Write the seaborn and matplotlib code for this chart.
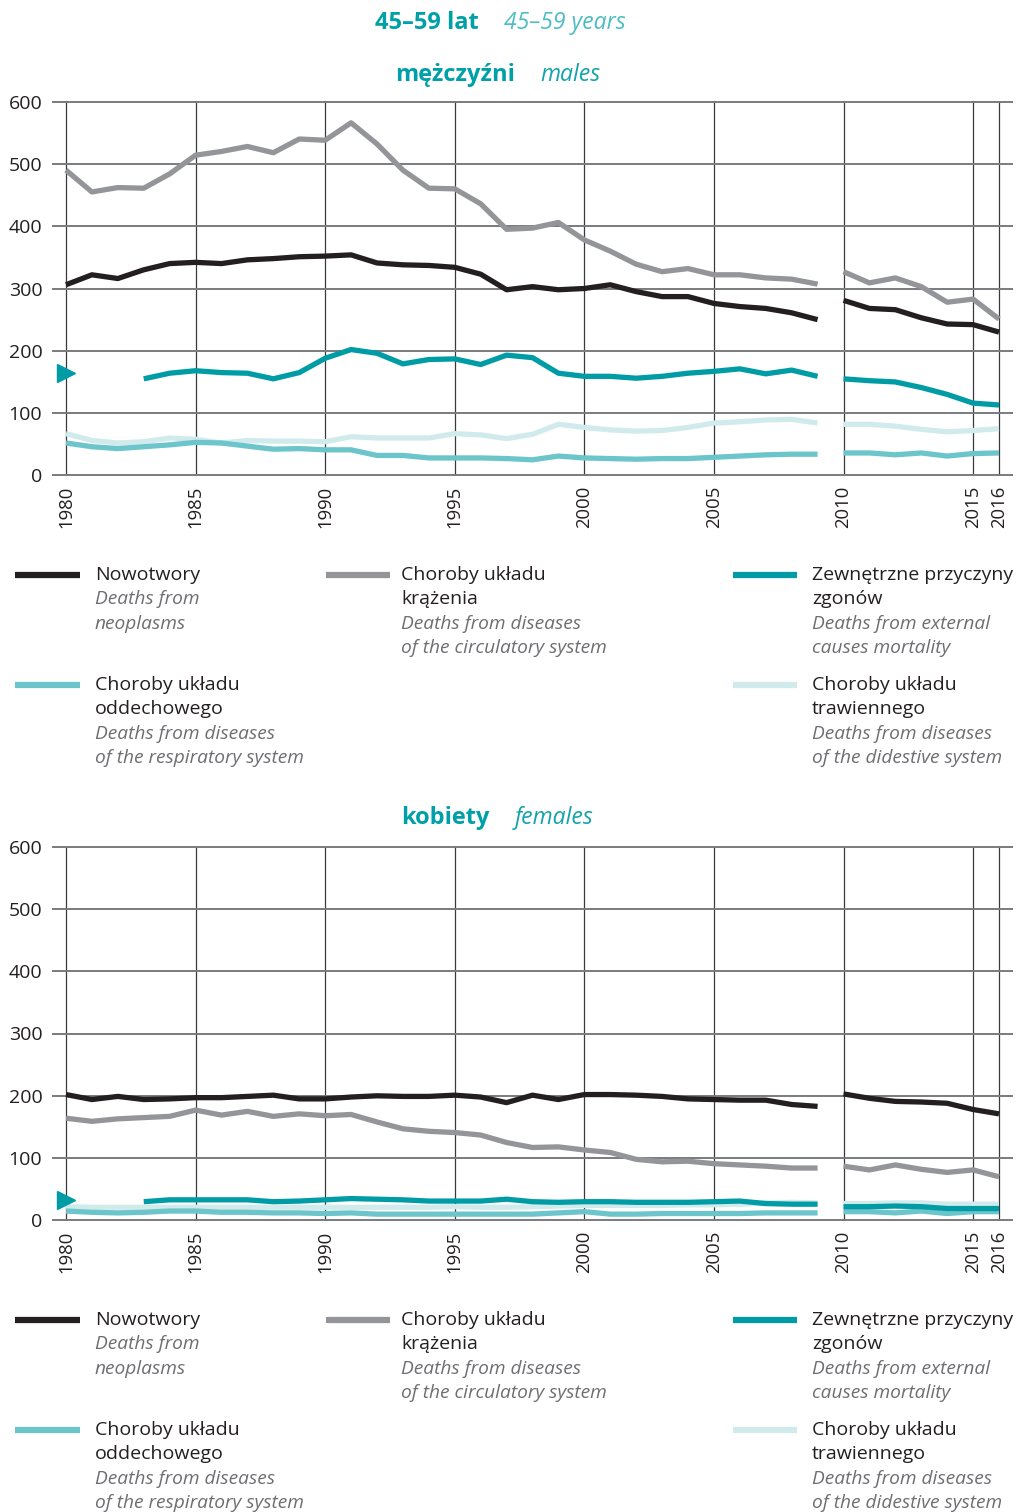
import numpy as np
import pandas as pd
import matplotlib.pyplot as plt
import seaborn as sns
from matplotlib.lines import Line2D

years = list(range(1980, 2017))
year_ticks = [1980, 1985, 1990, 1995, 2000, 2005, 2010, 2015, 2016]
y_ticks = [0, 100, 200, 300, 400, 500, 600]

# males
m_neo = [306, 322, 316, 330, 340, 342, 340, 346, 348, 351, 352, 354, 341, 338, 337, 334, 323, 298,
         303, 298, 300, 306, 295, 287, 287, 276, 271, 268, 261, 250, 281, 268, 266, 253, 243, 242, 230]
m_circ = [490, 455, 462, 461, 484, 514, 520, 528, 518, 540, 538, 566, 532, 490, 461, 460, 436, 395,
          397, 406, 378, 360, 339, 327, 332, 322, 322, 317, 315, 307, 327, 309, 317, 303, 278, 283, 251]
m_ext = [None, None, None, 155, 164, 168, 165, 164, 155, 165, 188, 202, 196, 179, 186, 187, 178, 193,
         189, 164, 159, 159, 156, 159, 164, 167, 171, 163, 169, 159, 155, 152, 150, 141, 130, 116, 113]
m_resp = [52, 46, 43, 46, 49, 53, 52, 47, 42, 43, 41, 41, 32, 32, 28, 28, 28, 27,
          25, 31, 28, 27, 26, 27, 27, 29, 31, 33, 34, 34, 36, 36, 33, 36, 31, 35, 36]
m_dig = [67, 56, 52, 54, 60, 58, 52, 56, 55, 55, 54, 62, 60, 60, 60, 67, 65, 59,
         66, 82, 77, 73, 71, 72, 77, 84, 86, 89, 90, 84, 82, 82, 79, 74, 70, 72, 75]
m_ext_1980 = 164

# females
f_neo = [202, 194, 199, 194, 195, 197, 197, 199, 201, 195, 195, 198, 200, 199, 199, 201, 198, 189,
         201, 194, 202, 202, 201, 199, 195, 194, 193, 193, 186, 183, 203, 196, 191, 190, 188, 178, 171]
f_circ = [164, 159, 163, 165, 167, 177, 169, 175, 167, 171, 168, 170, 158, 147, 143, 141, 137, 125,
          117, 118, 113, 109, 98, 94, 95, 91, 89, 87, 84, 84, 87, 81, 89, 82, 77, 81, 70]
f_ext = [None, None, None, 30, 33, 33, 33, 33, 30, 31, 33, 35, 34, 33, 31, 31, 31, 34,
         30, 29, 30, 30, 29, 29, 29, 30, 31, 27, 26, 26, 22, 22, 23, 22, 19, 19, 19]
f_resp = [15, 13, 12, 13, 15, 15, 13, 13, 12, 12, 11, 12, 10, 10, 10, 10, 10, 10,
          10, 12, 14, 10, 10, 11, 11, 11, 11, 12, 12, 12, 14, 14, 12, 15, 11, 14, 14]
f_dig = [22, 21, 21, 21, 21, 21, 21, 21, 21, 21, 21, 21, 21, 21, 21, 22, 21, 21,
         22, 23, 24, 24, 24, 24, 25, 25, 26, 28, 29, 28, 27, 27, 28, 28, 26, 26, 26]
f_ext_1980 = 33

colors = {'neo': '#231f20', 'circ': '#939598', 'ext': '#009ca6',
          'resp': '#6cc5ca', 'dig': '#d1ebec'}
draw_order = ['dig', 'resp', 'ext', 'circ', 'neo']

legend_items = [
    ('neo', ['Nowotwory'], ['Deaths from', 'neoplasms']),
    ('circ', ['Choroby układu', 'krążenia'], ['Deaths from diseases', 'of the circulatory system']),
    ('ext', ['Zewnętrzne przyczyny', 'zgonów'], ['Deaths from external', 'causes mortality']),
    ('resp', ['Choroby układu', 'oddechowego'], ['Deaths from diseases', 'of the respiratory system']),
    ('dig', ['Choroby układu', 'trawiennego'], ['Deaths from diseases', 'of the didestive system']),
]

sns.set_style('white')
plt.rcParams['font.family'] = ['Open Sans', 'DejaVu Sans']

W, H = 1017, 1512
fig = plt.figure(figsize=(W / 100, H / 100), dpi=100)


def fx(x):
    return x / W


def fy(y):
    return 1 - y / H


def draw_panel(top, series, ext_1980):
    bottom = top + 375
    ax = fig.add_axes([fx(52), fy(bottom), fx(1013) - fx(52), (bottom - top) / H])
    for key in draw_order:
        df = pd.DataFrame({'year': years, 'value': series[key]}).dropna()
        # data break between 2009 and 2010
        for part in (df[df['year'] <= 2009], df[df['year'] >= 2010]):
            sns.lineplot(data=part, x='year', y='value', color=colors[key],
                         linewidth=3.8, ax=ax, solid_capstyle='butt', legend=False)
    ax.plot([1980], [ext_1980], marker='>', markersize=13, color=colors['ext'],
            linestyle='none', clip_on=False, zorder=5)
    ax.set_xlim(1979.46, 2016.54)
    ax.set_ylim(-1, 601)
    ax.set_xticks(year_ticks)
    ax.set_xticklabels([str(y) for y in year_ticks], rotation=90, fontsize=13.3, color='#231f20')
    ax.set_yticks(y_ticks)
    ax.set_yticklabels([str(v) for v in y_ticks], fontsize=14, color='#231f20')
    ax.tick_params(axis='x', length=6, width=1, color='#3a3a3a', pad=1, direction='out')
    ax.tick_params(axis='y', length=0, pad=7)
    ax.grid(axis='y', color='#7a7b7e', linewidth=1.4)
    ax.grid(axis='x', color='#3a3a3a', linewidth=0.9)
    ax.set_axisbelow(True)
    for s in ax.spines.values():
        s.set_visible(False)
    ax.set_xlabel('')
    ax.set_ylabel('')
    return ax


def draw_legend(y0):
    cols = {0: (15, 80, 95), 1: (326, 390, 401), 2: (733, 797, 812)}
    slots = [(0, 0), (1, 0), (2, 0), (0, 1), (2, 1)]
    for (key, pl, en), (c, r) in zip(legend_items, slots):
        x1, x2, xt = cols[c]
        y = y0 + r * 110
        fig.add_artist(Line2D([fx(x1), fx(x2)], [fy(y), fy(y)], color=colors[key],
                              linewidth=4.5, solid_capstyle='butt'))
        ly = y
        for t in pl:
            fig.text(fx(xt), fy(ly), t, fontsize=14, color='#231f20', va='center', ha='left')
            ly += 24.3
        for t in en:
            fig.text(fx(xt), fy(ly), t, fontsize=13.8, color='#6d6e71', style='italic',
                     va='center', ha='left')
            ly += 24.3


def draw_header(y, bold, ital, ital_color, gap_x):
    fig.text(fx(gap_x - 13), fy(y), bold, fontsize=17, fontweight='bold', color='#00a0a8',
             ha='right', va='center')
    fig.text(fx(gap_x + 12), fy(y), ital, fontsize=16.6, style='italic', color=ital_color,
             ha='left', va='center')


draw_header(23, '45–59 lat', '45–59 years', '#4dbcc4', 492)
draw_header(75, 'mężczyźni', 'males', '#14a3ab', 528)
draw_header(818, 'kobiety', 'females', '#14a3ab', 503)

males = {'neo': m_neo, 'circ': m_circ, 'ext': m_ext, 'resp': m_resp, 'dig': m_dig}
females = {'neo': f_neo, 'circ': f_circ, 'ext': f_ext, 'resp': f_resp, 'dig': f_dig}

draw_panel(101, males, m_ext_1980)
draw_legend(575)
draw_panel(846, females, f_ext_1980)
draw_legend(1320)

fig.savefig('out.png', dpi=100)
